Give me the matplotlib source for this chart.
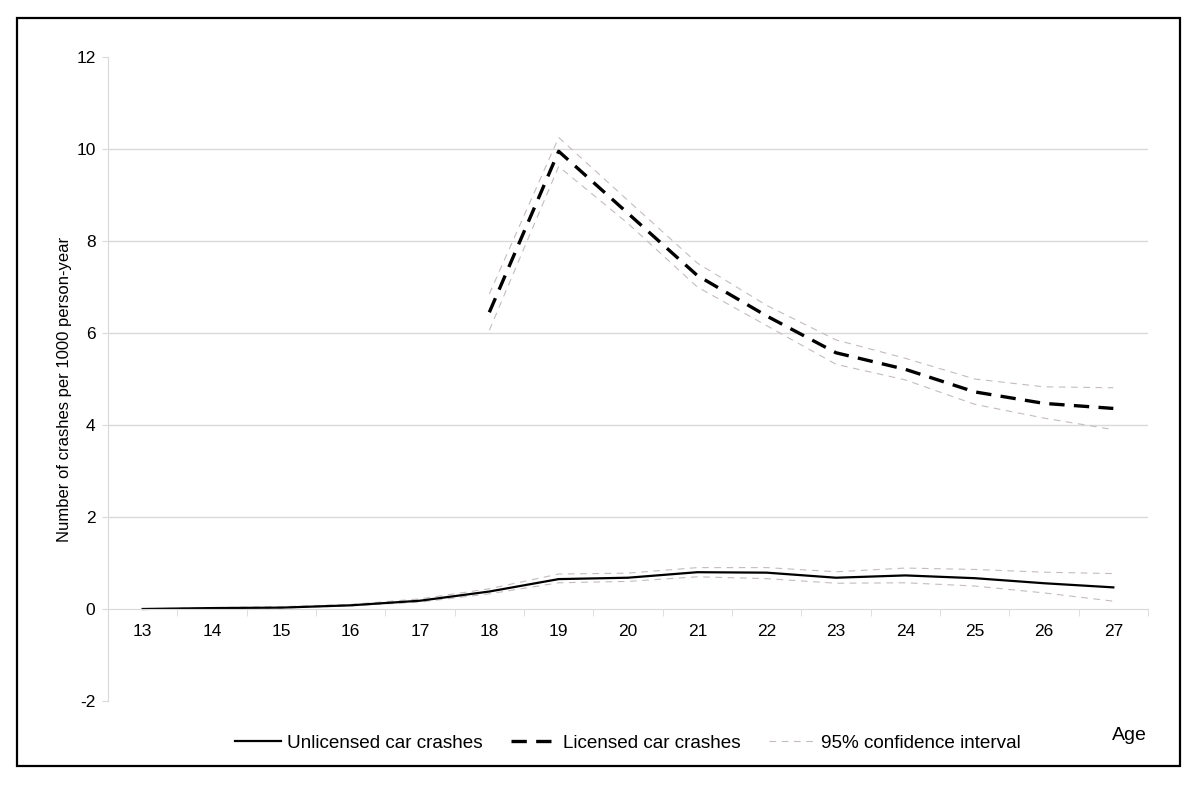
import matplotlib
matplotlib.use("Agg")
import matplotlib.pyplot as plt
from matplotlib.patches import Rectangle
from matplotlib.lines import Line2D

plt.rcParams['font.family'] = ['Liberation Sans', 'DejaVu Sans']
plt.rcParams['axes.unicode_minus'] = False

# ages (categories)
ages = [13, 14, 15, 16, 17, 18, 19, 20, 21, 22, 23, 24, 25, 26, 27]

# unlicensed car crashes + 95% CI
unlic = [0.0, 0.02, 0.03, 0.08, 0.18, 0.38, 0.65, 0.68, 0.80, 0.79, 0.68, 0.73, 0.67, 0.56, 0.47]
unlic_hi = [0.0, 0.03, 0.05, 0.10, 0.22, 0.44, 0.76, 0.78, 0.90, 0.90, 0.81, 0.89, 0.86, 0.80, 0.77]
unlic_lo = [0.0, 0.01, 0.02, 0.07, 0.15, 0.33, 0.57, 0.60, 0.70, 0.66, 0.56, 0.57, 0.50, 0.35, 0.17]

# licensed car crashes (from age 18) + 95% CI
lic_ages = [18, 19, 20, 21, 22, 23, 24, 25, 26, 27]
lic = [6.45, 9.95, 8.60, 7.25, 6.37, 5.57, 5.21, 4.72, 4.47, 4.36]
lic_hi = [6.85, 10.25, 8.88, 7.52, 6.60, 5.85, 5.45, 5.00, 4.83, 4.81]
lic_lo = [6.06, 9.62, 8.38, 7.00, 6.16, 5.32, 4.98, 4.45, 4.15, 3.90]

ci_col = '#c4bcc0'
grid_col = '#d9d9d9'

fig = plt.figure(figsize=(12, 7.92), dpi=100)
ax = fig.add_axes([108/1200, 1-701/792, 1040/1200, 644/792])

# gridlines
for g in [2, 4, 6, 8, 10]:
    ax.axhline(g, color=grid_col, lw=1, zorder=0)

ci_style = dict(color=ci_col, lw=0.8, dashes=(6, 5))
ax.plot(ages, unlic_hi, **ci_style)
ax.plot(ages, unlic_lo, **ci_style)
ax.plot(lic_ages, lic_hi, **ci_style)
ax.plot(lic_ages, lic_lo, **ci_style)
ax.plot(ages, unlic, color='black', lw=1.6)
ax.plot(lic_ages, lic, color='black', lw=2.4, dashes=(4.6, 2.8))

ax.set_xlim(12.5, 27.5)
ax.set_ylim(-2, 12)
ax.set_yticks(range(-2, 13, 2))
ax.set_xticks(ages)
ax.set_xticks([a + 0.5 for a in range(12, 28)], minor=True)

for s in ['top', 'right']:
    ax.spines[s].set_visible(False)
ax.spines['bottom'].set_position(('data', 0))
ax.spines['bottom'].set_color(grid_col)
ax.spines['left'].set_color(grid_col)
ax.tick_params(axis='x', which='major', length=0, pad=11, labelsize=12.5)
ax.tick_params(axis='x', which='minor', length=5, color=grid_col, direction='out')
ax.tick_params(axis='y', length=4, color=grid_col, pad=5, labelsize=12.5)

fig.text(65/1200, 1-389/792, 'Number of crashes per 1000 person-year',
         rotation=90, ha='center', va='center', fontsize=12)
fig.text(1129/1200, 1-735/792, 'Age', ha='center', va='center', fontsize=14)

handles = [
    Line2D([], [], color='black', lw=1.6),
    Line2D([], [], color='black', lw=2.4, dashes=(4.6, 2.8)),
    Line2D([], [], color=ci_col, lw=0.8, dashes=(6, 5)),
]
labels = ['Unlicensed car crashes', 'Licensed car crashes', '95% confidence interval']
fig.legend(handles, labels, loc='center', bbox_to_anchor=(628/1200, 1-743/792),
           ncol=3, frameon=False, fontsize=13.6, handlelength=2.4,
           handletextpad=0.35, columnspacing=1.5)

fig.patches.append(Rectangle((17/1200, 1-766/792), 1163/1200, 748/792,
                             transform=fig.transFigure, fill=False,
                             edgecolor='black', lw=1.6))

fig.savefig('out.png', dpi=100)
